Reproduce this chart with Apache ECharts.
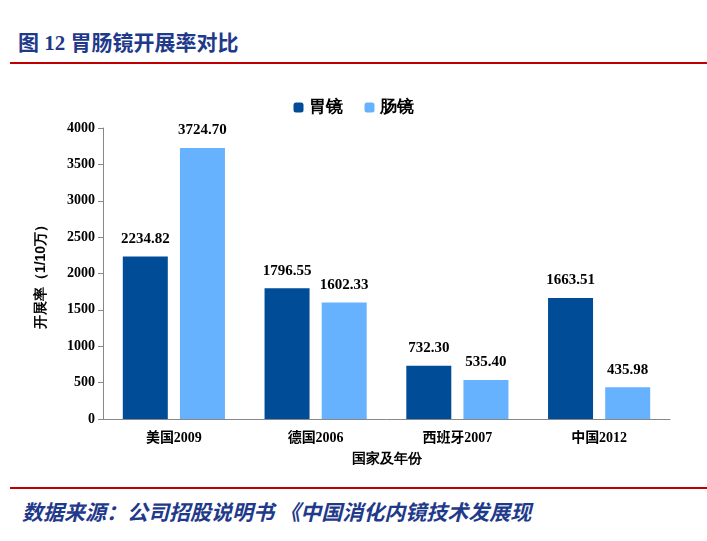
<!DOCTYPE html>
<html><head><meta charset="utf-8">
<script src="https://cdn.jsdelivr.net/npm/echarts@6/dist/echarts.min.js"></script>
<style>
body{margin:0;background:#fff;font-family:"Liberation Serif","Noto Sans CJK SC";}
#title{position:absolute;left:18px;top:26px;font-size:21px;font-weight:bold;color:#1f3a8a;}
.line{position:absolute;left:10px;width:697px;height:1.5px;background:#c00000;}
#src{position:absolute;left:22px;top:496px;font-size:21px;font-weight:bold;font-style:italic;color:#1f3a8a;white-space:nowrap;}
</style></head><body>
<div id="title">图 12 胃肠镜开展率对比</div>
<div class="line" style="top:62px"></div>
<div id="chart" style="position:absolute;left:0;top:70px;width:707px;height:410px;"></div>
<div class="line" style="top:487px"></div>
<div id="src">数据来源：公司招股说明书 《中国消化内镜技术发展现</div>
<script>
const categories = ['美国2009', '德国2006', '西班牙2007', '中国2012'];
const gastro = [2234.82, 1796.55, 732.30, 1663.51];
const colono = [3724.70, 1602.33, 535.40, 435.98];
const yTicks = [0, 4000, 500];

const ff = '"Liberation Serif","Noto Sans CJK SC"';
const chart = echarts.init(document.getElementById('chart'));
const lbl = {show: true, position: 'top', distance: 10, fontFamily: ff, fontWeight: 'bold', fontSize: 15, color: '#000', formatter: p => p.value.toFixed(2)};
chart.setOption({
  animation: false,
  legend: {top: 24, left: 'center', itemWidth: 10, itemHeight: 10, itemGap: 22,
    textStyle: {fontSize: 17, fontWeight: 'bold', color: '#000'},
    data: ['胃镜', '肠镜']},
  grid: {left: 103, right: 37, top: 58, bottom: 61},
  xAxis: {type: 'category', data: categories,
    axisLine: {lineStyle: {color: '#888'}}, axisTick: {show: false},
    axisLabel: {color: '#000', fontWeight: 'bold', fontSize: 14, margin: 12, fontFamily: ff},
    name: '国家及年份', nameLocation: 'middle', nameGap: 33,
    nameTextStyle: {color: '#000', fontWeight: 'bold', fontSize: 14}},
  yAxis: {type: 'value', min: yTicks[0], max: yTicks[1], interval: yTicks[2],
    splitLine: {show: false}, axisLine: {show: true, lineStyle: {color: '#888'}},
    axisTick: {show: true, lineStyle: {color: '#888'}},
    axisLabel: {color: '#000', fontWeight: 'bold', fontSize: 14, fontFamily: ff, formatter: v => String(v)},
    name: '开展率（1/10万）', nameLocation: 'middle', nameGap: 55, nameRotate: 90,
    nameTextStyle: {color: '#000', fontWeight: 'bold', fontSize: 14}},
  series: [
    {name: '胃镜', type: 'bar', data: gastro, barWidth: 45, barGap: '27%', itemStyle: {color: '#004c97'}, label: lbl},
    {name: '肠镜', type: 'bar', data: colono, barWidth: 45, itemStyle: {color: '#66b2ff'}, label: lbl}
  ]
});
</script>
</body></html>
